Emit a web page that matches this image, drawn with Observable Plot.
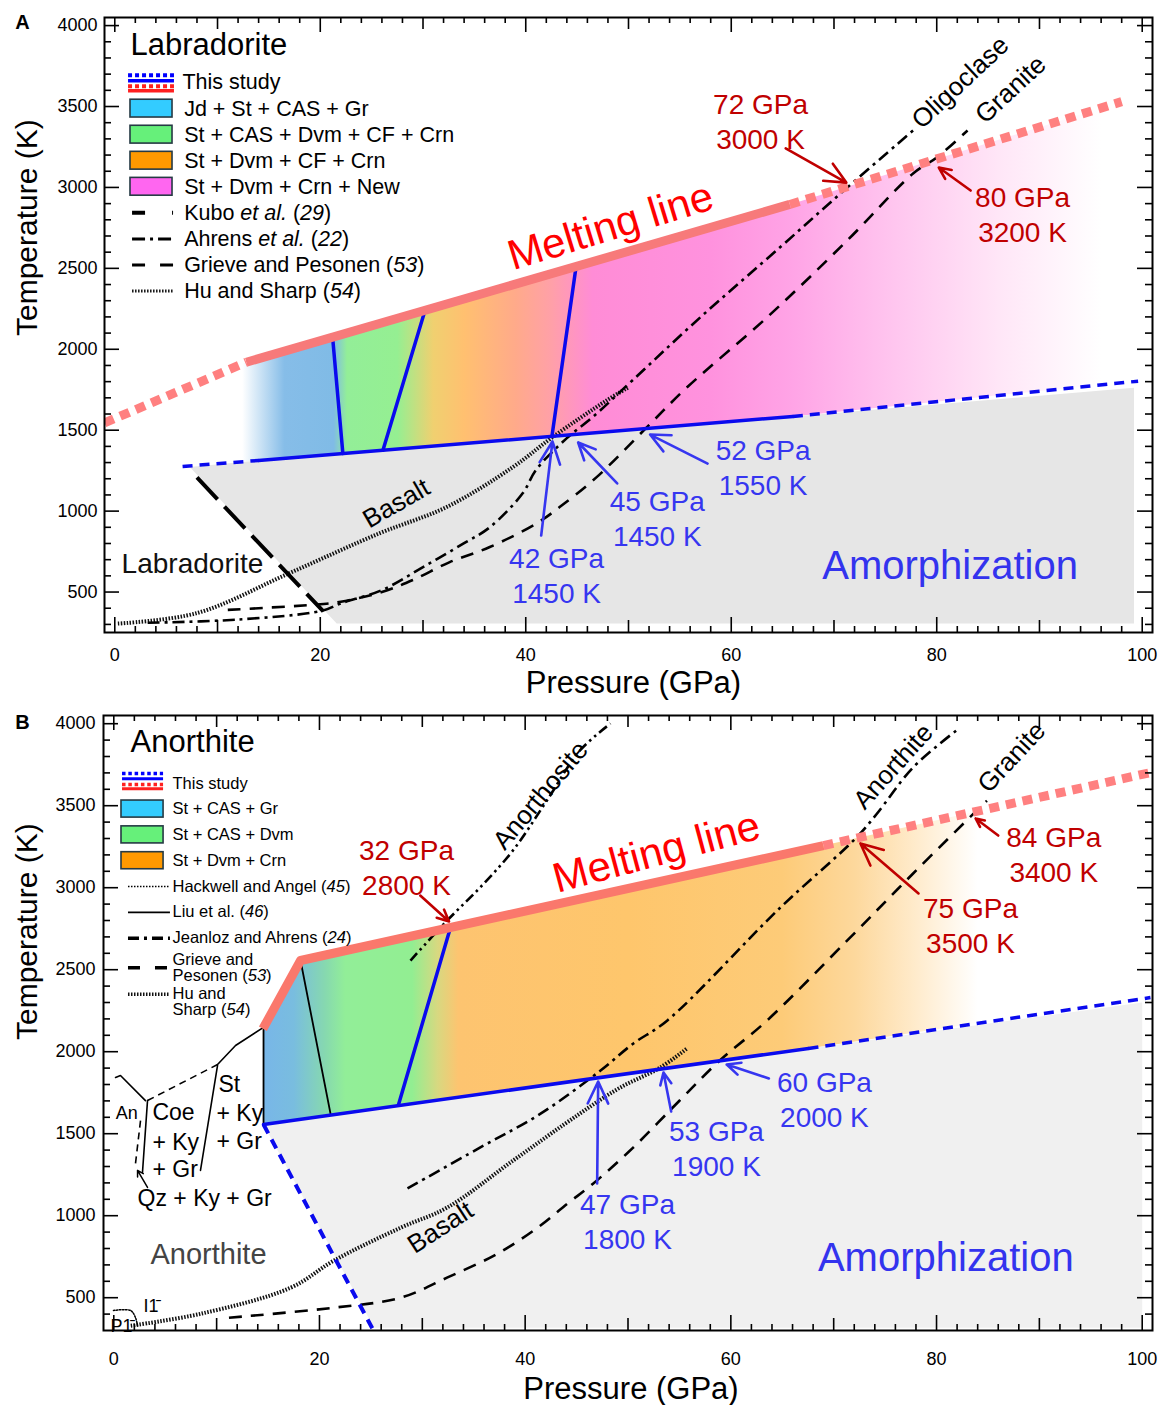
<!DOCTYPE html>
<html><head><meta charset="utf-8">
<script src="https://cdn.jsdelivr.net/npm/d3@7"></script>
<script src="https://cdn.jsdelivr.net/npm/@observablehq/plot@0.6"></script>
<style>
body{margin:0;background:#fff;width:1161px;}
svg{display:block;}
</style></head><body><div id="chart"></div>
<script>
// ================= shared axis values =================
const xTickLabels = [0, 20, 40, 60, 80, 100];
const yTickLabels = [500, 1000, 1500, 2000, 2500, 3000, 3500, 4000];

// ================= Panel A : Labradorite =================
const titleA = "Labradorite";
const meltSolidA = [[12.8, 1920], [65.7, 2895]];
const meltDotLowA = [[-1.0, 1545], [12.8, 1920]];
const meltDotHighA = [[65.7, 2895], [98.0, 3530]];
const amorphSolidA = [[14.0, 1313], [66.0, 1585]];
const amorphDashLowA = [[6.6, 1276], [14.0, 1313]];
const amorphDashHighA = [[66.0, 1585], [99.6, 1803]];
const phaseLinesA = [
  [[21.2, 2075], [22.2, 1356]],
  [[30.2, 2241], [26.1, 1376]],
  [[44.9, 2512], [42.55, 1462]]
];
const grayA = [[7.3, 1272], [14.0, 1313], [66.0, 1585], [99.2, 1762], [99.2, 306], [21.6, 306]];
const fillA = [[12.4, 1912], [65.7, 2895], [98.0, 3530], [99.2, 1801], [66.0, 1585], [14.0, 1313], [12.4, 1305]];
const fillStopsA = [
  [12.4, "#ffffff"], [16.5, "#86bde8"], [21.3, "#80bbe6"], [22.6, "#93ee98"], [27.5, "#95ef92"],
  [31.0, "#f0d070"], [34.0, "#ffc070"], [39.0, "#ffaa8a"], [42.5, "#ffa0a8"], [46.5, "#ff8cd6"],
  [58.0, "#ff92de"], [66.0, "#ffa4e6"], [76.0, "#ffc6ef"], [86.0, "#ffe6f7"], [96.0, "#ffffff"]
];
const kuboA = [[8.0, 1208], [20.3, 380]];
const ahrensA = [[3.2, 310], [12, 330], [20.2, 385], [22, 430], [26, 512], [30, 654], [34, 802], [36.5, 900],
  [39.7, 1110], [41, 1255], [44, 1451], [46.5, 1580], [50.4, 1809], [57, 2198], [64.75, 2630], [71.3, 3000], [77.7, 3352]];
const grieveA = [[11, 390], [19, 420], [22, 440], [26, 500], [29, 574], [32.6, 685], [36.5, 778], [41.1, 926],
  [43.3, 1025], [46.9, 1210], [51.8, 1519], [55.7, 1765], [63.5, 2198], [71.3, 2673], [77.7, 3086], [80, 3185], [83, 3352]];
const huSharpA = [[0.3, 305], [8, 370], [17, 617], [25.8, 864], [32.3, 1025], [38.75, 1272], [42.6, 1457], [47.9, 1685], [50, 1765]];

const swatchLabelsA = ["Jd + St + CAS + Gr", "St + CAS + Dvm + CF + Crn", "St + Dvm + CF + Crn", "St + Dvm + Crn + New"];
const swatchColorsA = ["#33ccff", "#66f07a", "#ff9900", "#ff66f0"];
const lineLabelsA = ["Kubo _et al._ (_29_)", "Ahrens _et al._ (_22_)", "Grieve and Pesonen (_53_)", "Hu and Sharp (_54_)"];

const redLabelsA = [{t: "72 GPa\n3000 K", x: 62.85, y: 3414}, {t: "80 GPa\n3200 K", x: 88.35, y: 2839}];
const redArrowsA = [[65.3, 3241, 71.2, 3030], [83.3, 2981, 80.2, 3123]];
const blueLabelsA = [{t: "42 GPa\n1450 K", x: 43.0, y: 608}, {t: "45 GPa\n1450 K", x: 52.8, y: 961}, {t: "52 GPa\n1550 K", x: 63.1, y: 1276}];
const blueArrowsA = [[41.5, 849, 42.6, 1430], [48.9, 1171, 45.1, 1424], [57.7, 1294, 52.1, 1473]];
const rockLabelsA = [{t: "Oligoclase", x: 82.3, y: 3648, r: -43}, {t: "Granite", x: 87.2, y: 3605, r: -43}, {t: "Basalt", x: 27.4, y: 1047, r: -30}];

// ================= Panel B : Anorthite =================
const titleB = "Anorthite";
const meltSolidB = [[14.5, 2140], [18.16, 2556], [69.0, 3257]];
const meltDotB = [[69.0, 3257], [100.8, 3702]];
const amorphSolidB = [[14.56, 1556], [67.55, 2020]];
const amorphDashB = [[67.55, 2020], [100.8, 2330]];
const amorphDashDownB = [[14.56, 1556], [25.25, 300]];
const phaseBlueB = [[32.74, 2757], [27.69, 1678]];
const phaseBlackB = [[[18.16, 2556], [21.07, 1623]], [[14.56, 2148], [14.56, 1556]]];
const grayB = [[14.56, 1556], [67.55, 2020], [100.0, 2300], [100.0, 317], [25.3, 317]];
const fillB = [[14.56, 2148], [18.16, 2556], [69.0, 3257], [86.0, 3495], [86.0, 2193], [67.55, 2020], [14.56, 1556]];
const fillStopsB = [
  [14.56, "#78b6e8"], [17.5, "#79bddf"], [20.5, "#86d8b0"], [22.5, "#92ee98"], [29.0, "#92ee92"],
  [31.5, "#d8d880"], [33.5, "#fdc470"], [50.0, "#fec66c"], [65.0, "#fdcb78"], [72.0, "#fdd89c"],
  [78.0, "#ffebcc"], [84.0, "#ffffff"]
];
const jeanlozHighB = [[28.85, 2556], [32.4, 2799], [35.6, 3000], [38.8, 3226], [42.1, 3530], [45.3, 3835], [48.3, 4001]];
const jeanlozLowB = [[28.56, 1166], [35.6, 1415], [41.5, 1622], [47.3, 1884], [50.5, 2049], [53.8, 2189], [64.8, 2878],
  [72.2, 3305], [74.2, 3451], [77.7, 3732], [81.9, 3957]];
const grieveB = [[11.2, 378], [21.4, 439], [27.9, 500], [32.4, 622], [37.3, 768], [41.2, 927], [44.1, 1073], [46.6, 1195],
  [50.5, 1415], [55.0, 1701], [58.9, 1945], [63.5, 2189], [71.3, 2677], [77.7, 3085], [83.9, 3470], [84.9, 3530]];
const huSharpB = [[1.65, 329], [8.45, 402], [17.2, 561], [21.4, 726], [27.9, 927], [32.4, 1049], [38.8, 1335],
  [45.3, 1622], [49.2, 1780], [53.1, 1902], [55.7, 2018]];
const liuSolidB = [
  [[0.17, 1843], [0.65, 1855], [3.08, 1702]],
  [[3.28, 1702], [2.79, 1263]],
  [[10.09, 1922], [11.84, 2038], [14.56, 2148]],
  [[10.09, 1916], [8.43, 1276]]
];
const liuDashB = [[[3.28, 1702], [10.09, 1922]], [[2.6, 1580], [2.11, 1318]]];
const liuRedB = [[19.6, 2561], [23.8, 2616]];
const liuArrowB = [[3.28, 1172, 2.31, 1276]];
const hackwellB = [[-0.03, 422], [1.63, 422], [2.11, 379], [2.3, 330]];

const swatchLabelsB = ["St + CAS + Gr", "St + CAS + Dvm", "St + Dvm + Crn"];
const swatchColorsB = ["#33ccff", "#66f07a", "#ff9900"];
const lineLabelsB = ["Hackwell and Angel (_45_)", "Liu et al. (_46_)", "Jeanloz and Ahrens (_24_)", "Grieve and\nPesonen (_53_)", "Hu and\nSharp (_54_)"];

const redLabelsB = [{t: "32 GPa\n2800 K", x: 28.46, y: 3129}, {t: "84 GPa\n3400 K", x: 91.4, y: 3209}, {t: "75 GPa\n3500 K", x: 83.3, y: 2776}];
const redArrowsB = [[29.8, 2952, 32.6, 2794], [86.0, 3318, 83.8, 3422], [78.25, 2965, 72.6, 3270]];
const blueLabelsB = [{t: "60 GPa\n2000 K", x: 69.1, y: 1715}, {t: "53 GPa\n1900 K", x: 58.6, y: 1416}, {t: "47 GPa\n1800 K", x: 49.95, y: 971}];
const blueArrowsB = [[63.7, 1837, 59.6, 1922], [54.2, 1635, 53.45, 1873], [47.0, 1196, 47.1, 1818]];
const rockLabelsB = [{t: "Anorthosite", x: 41.5, y: 3562, r: -50}, {t: "Anorthite", x: 75.8, y: 3739, r: -48},
  {t: "Granite", x: 87.3, y: 3794, r: -47}, {t: "Basalt", x: 31.77, y: 928, r: -33}];
const phaseTextB = [
  {t: "An", x: 0.2, y: 1623, s: 18}, {t: "Coe", x: 3.76, y: 1629, s: 23},
  {t: "+ Ky", x: 3.76, y: 1446, s: 23}, {t: "+ Gr", x: 3.76, y: 1282, s: 23},
  {t: "St", x: 10.18, y: 1800, s: 23}, {t: "+ Ky", x: 9.99, y: 1623, s: 23},
  {t: "+ Gr", x: 9.99, y: 1452, s: 23}, {t: "Qz + Ky + Gr", x: 2.31, y: 1105, s: 23},
  {t: "I1\u0304", x: 2.89, y: 446, s: 18}, {t: "P1\u0304", x: -0.32, y: 324, s: 18}
];

// ================= helpers =================
const FONT = "'Liberation Sans', Arial, Helvetica, sans-serif";
const RED_DARK = "#c00000", BLUE_TXT = "#3636f0", LINE_BLUE = "#0a0aee";
const px = d => d[0], py = d => d[1];

function ln(arr, o) { return Plot.line(arr, {x: px, y: py, clip: true, ...o}); }
function lns(arrs, o) {
  const flat = arrs.flatMap((a, i) => a.map(p => ({x: p[0], y: p[1], z: i})));
  return Plot.line(flat, {x: "x", y: "y", z: "z", clip: true, ...o});
}
function poly(arr, fill) { return Plot.line(arr, {x: px, y: py, curve: "linear-closed", fill, stroke: "none", clip: true}); }
function arrows(arr, color) {
  return Plot.arrow(arr, {x1: d => d[0], y1: d => d[1], x2: d => d[2], y2: d => d[3], stroke: color, strokeWidth: 2.6, headLength: 14, headAngle: 50});
}
function tickMarks(fw, fh, yTicks) {
  const m = [];
  const xs = d3.range(0, 101, 2);
  const xl = v => v % 20 === 0 ? 15 : v % 10 === 0 ? 12 : 6;
  for (const L of [15, 12, 6]) {
    const d = xs.filter(v => xl(v) === L);
    m.push(Plot.ruleX(d, {x: v => v, insetTop: fh - L, stroke: "black", strokeWidth: 1.6}));
    m.push(Plot.ruleX(d, {x: v => v, insetBottom: fh - L, stroke: "black", strokeWidth: 1.6}));
  }
  const yl = v => v % 500 === 0 ? 15 : 7;
  for (const L of [15, 7]) {
    const d = yTicks.filter(v => yl(v) === L);
    m.push(Plot.ruleY(d, {y: v => v, insetRight: fw - L, stroke: "black", strokeWidth: 1.6}));
    m.push(Plot.ruleY(d, {y: v => v, insetLeft: fw - L, stroke: "black", strokeWidth: 1.6}));
  }
  return m;
}
function addGradient(svg, id, polygon, stops) {
  const xmin = d3.min(polygon, px), xmax = d3.max(polygon, px);
  const defs = d3.select(svg).insert("svg:defs", ":first-child");
  const g = defs.append("svg:linearGradient").attr("id", id).attr("x1", 0).attr("x2", 1).attr("y1", 0).attr("y2", 0);
  for (const [x, c] of stops) g.append("svg:stop").attr("offset", Math.max(0, Math.min(1, (x - xmin) / (xmax - xmin)))).attr("stop-color", c);
}
function italicize(svg) {
  svg.querySelectorAll("text, tspan").forEach(el => {
    if (el.childElementCount) return;
    const t = el.textContent;
    if (!t.includes("_")) return;
    el.textContent = "";
    t.split("_").forEach((part, i) => {
      if (!part) return;
      const ts = document.createElementNS("http://www.w3.org/2000/svg", "tspan");
      if (i % 2) ts.setAttribute("font-style", "italic");
      ts.textContent = part;
      el.appendChild(ts);
    });
  });
}
const HATCH = {stroke: "#111", strokeWidth: 4, strokeDasharray: "1.5,1.5", strokeLinecap: "butt"};

// ================= Panel A =================
function panelA() {
  const W = 1161, H = 700, mL = 104, mR = 9, mT = 17, mB = 68;
  const fw = W - mL - mR, fh = H - mT - mB;
  const rowY = i => 3648 - i * 161;
  const swRows = swatchLabelsA.map((t, i) => ({t, c: swatchColorsA[i], y: rowY(i + 1)}));
  const lnRows = lineLabelsA.map((t, i) => ({t, y: rowY(i + 5)}));
  const marks = [
    poly(fillA, "url(#gradA)"),
    poly(grayA, "#e6e6e6"),
    ln(huSharpA, {...HATCH, curve: "catmull-rom"}),
    ln(ahrensA, {stroke: "black", strokeWidth: 2.6, strokeDasharray: "12,5,3,5", strokeLinecap: "butt", curve: "catmull-rom"}),
    ln(grieveA, {stroke: "black", strokeWidth: 2.6, strokeDasharray: "13,9", strokeLinecap: "butt", curve: "catmull-rom"}),
    ln(kuboA, {stroke: "black", strokeWidth: 4, strokeDasharray: "30,10", strokeLinecap: "butt"}),
    lns(phaseLinesA, {stroke: LINE_BLUE, strokeWidth: 3.5}),
    ln(amorphSolidA, {stroke: LINE_BLUE, strokeWidth: 3.5}),
    ln(amorphDashLowA, {stroke: LINE_BLUE, strokeWidth: 3.5, strokeDasharray: "10,7", strokeLinecap: "butt"}),
    ln(amorphDashHighA, {stroke: LINE_BLUE, strokeWidth: 3.5, strokeDasharray: "10,7", strokeLinecap: "butt"}),
    ln(meltSolidA, {stroke: "#f77a7a", strokeWidth: 9, strokeLinecap: "butt"}),
    ln(meltDotLowA, {stroke: "#ff8080", strokeWidth: 9, strokeDasharray: "10,7", strokeLinecap: "butt"}),
    ln(meltDotHighA, {stroke: "#ff8080", strokeWidth: 9, strokeDasharray: "10,7", strokeLinecap: "butt"}),
    // annotations
    Plot.text(["Melting line"], {x: 48.25, y: 2759, text: d => d, rotate: -17, fontSize: 42, fill: "#ff0000"}),
    Plot.text(redLabelsA, {x: "x", y: "y", text: "t", fontSize: 28, fill: RED_DARK, lineHeight: 1.25}),
    arrows(redArrowsA, RED_DARK),
    Plot.text(blueLabelsA, {x: "x", y: "y", text: "t", fontSize: 28, fill: BLUE_TXT, lineHeight: 1.25}),
    arrows(blueArrowsA, BLUE_TXT),
    Plot.text(rockLabelsA, {x: "x", y: "y", text: "t", rotate: d => d.r, fontSize: 26, fill: "black"}),
    Plot.text(["Labradorite"], {x: 7.56, y: 676, text: d => d, fontSize: 28, fill: "#111"}),
    Plot.text(["Amorphization"], {x: 81.3, y: 658, text: d => d, fontSize: 40, fill: "#3333ee"}),
    // legend
    Plot.text([titleA], {x: 1.53, y: 3877, text: d => d, fontSize: 31, textAnchor: "start"}),
    Plot.ruleY([rowY(0)], {y: d => d, x1: 1.34, x2: 5.81, dy: -7.3, stroke: "#0000ff", strokeWidth: 4, strokeDasharray: "4,3"}),
    Plot.ruleY([rowY(0)], {y: d => d, x1: 1.34, x2: 5.81, dy: -1.7, stroke: "#0000ff", strokeWidth: 3.5}),
    Plot.ruleY([rowY(0)], {y: d => d, x1: 1.34, x2: 5.81, dy: 3.7, stroke: "#ff2020", strokeWidth: 4, strokeDasharray: "4,3"}),
    Plot.ruleY([rowY(0)], {y: d => d, x1: 1.34, x2: 5.81, dy: 8.2, stroke: "#ff2020", strokeWidth: 3.5}),
    Plot.text(["This study"], {x: 6.59, y: rowY(0), text: d => d, fontSize: 21.5, textAnchor: "start"}),
    ...swRows.map(r => Plot.rect([r], {x1: 1.53, x2: 5.62, y1: d => d.y - 55, y2: d => d.y + 55, fill: r.c, stroke: "#263a44", strokeWidth: 1.6})),
    Plot.text(swRows, {x: 6.75, y: "y", text: "t", fontSize: 21.5, textAnchor: "start"}),
    Plot.ruleY([lnRows[0]], {y: "y", x1: 1.73, x2: 5.72, stroke: "black", strokeWidth: 4, strokeDasharray: "13,27"}),
    Plot.ruleY([lnRows[1]], {y: "y", x1: 1.73, x2: 5.72, stroke: "black", strokeWidth: 3, strokeDasharray: "13,5,3,5"}),
    Plot.ruleY([lnRows[2]], {y: "y", x1: 1.73, x2: 5.72, stroke: "black", strokeWidth: 3, strokeDasharray: "13,15"}),
    Plot.ruleY([lnRows[3]], {y: "y", x1: 1.73, x2: 5.72, stroke: "#111", strokeWidth: 3, strokeDasharray: "1.5,1.5"}),
    Plot.text(lnRows, {x: 6.75, y: "y", text: "t", fontSize: 21.5, textAnchor: "start"}),
    // axes
    ...tickMarks(fw, fh, d3.range(300, 4001, 100)),
    Plot.frame({stroke: "black", strokeWidth: 2}),
    Plot.text(xTickLabels, {x: d => d, text: d => String(d), frameAnchor: "bottom", lineAnchor: "middle", dy: 23, fontSize: 18}),
    Plot.text(yTickLabels, {y: d => d, text: d => String(d), frameAnchor: "left", textAnchor: "end", dx: -7, fontSize: 18}),
    Plot.text(["Pressure (GPa)"], {text: d => d, frameAnchor: "bottom", lineAnchor: "middle", dy: 51, dx: 5, fontSize: 31}),
    Plot.text(["Temperature (K)"], {text: d => d, frameAnchor: "left", rotate: -90, dx: -77, dy: 11, fontSize: 30}),
    Plot.text(["A"], {text: d => d, frameAnchor: "top-left", textAnchor: "middle", lineAnchor: "middle", dx: -82, dy: 5, fontSize: 20, fontWeight: "bold"})
  ];
  const svg = Plot.plot({
    width: W, height: H, marginLeft: mL, marginRight: mR, marginTop: mT, marginBottom: mB,
    x: {domain: [-1, 101], axis: null}, y: {domain: [250, 4050], axis: null},
    style: {fontFamily: FONT, fontSize: "18px", background: "white", overflow: "visible", color: "black"},
    marks
  });
  addGradient(svg, "gradA", fillA, fillStopsA);
  italicize(svg);
  return svg;
}

// ================= Panel B =================
function panelB() {
  const W = 1161, H = 705, mL = 103, mR = 9, mT = 15, mB = 75;
  const fw = W - mL - mR, fh = H - mT - mB;
  const slot = i => i < 7 ? i : 7.14 + (i - 7) * 1.34;
  const rowY = i => 3637 - slot(i) * 157.5;
  const swRows = swatchLabelsB.map((t, i) => ({t, c: swatchColorsB[i], y: rowY(i + 1)}));
  const lnRows = lineLabelsB.map((t, i) => ({t, y: rowY(i + 4)}));
  const marks = [
    poly(fillB, "url(#gradB)"),
    poly(grayB, "#f0f0f0"),
    ln(huSharpB, {...HATCH, curve: "catmull-rom"}),
    ln(hackwellB, {stroke: "black", strokeWidth: 1.5, strokeDasharray: "1.5,1.5", curve: "catmull-rom"}),
    ln(jeanlozHighB, {stroke: "black", strokeWidth: 2.6, strokeDasharray: "10,4,2.5,4,2.5,4", strokeLinecap: "butt", curve: "catmull-rom"}),
    ln(jeanlozLowB, {stroke: "black", strokeWidth: 2.6, strokeDasharray: "12,5,3,5", strokeLinecap: "butt", curve: "catmull-rom"}),
    ln(grieveB, {stroke: "black", strokeWidth: 2.6, strokeDasharray: "13,9", strokeLinecap: "butt", curve: "catmull-rom"}),
    lns(liuSolidB, {stroke: "black", strokeWidth: 1.6, strokeLinejoin: "miter"}),
    lns(liuDashB, {stroke: "black", strokeWidth: 1.6, strokeDasharray: "7,5", strokeLinecap: "butt"}),
    ln(liuRedB, {stroke: "#9a1010", strokeWidth: 1.8}),
    Plot.arrow(liuArrowB, {x1: d => d[0], y1: d => d[1], x2: d => d[2], y2: d => d[3], stroke: "black", strokeWidth: 1.5, headLength: 8}),
    lns(phaseBlackB, {stroke: "black", strokeWidth: 1.8}),
    ln(phaseBlueB, {stroke: LINE_BLUE, strokeWidth: 3.5}),
    ln(amorphSolidB, {stroke: LINE_BLUE, strokeWidth: 3.5}),
    ln(amorphDashB, {stroke: LINE_BLUE, strokeWidth: 3.5, strokeDasharray: "10,7", strokeLinecap: "butt"}),
    ln(amorphDashDownB, {stroke: LINE_BLUE, strokeWidth: 4, strokeDasharray: "10,7", strokeLinecap: "butt"}),
    ln(meltSolidB, {stroke: "#fa786c", strokeWidth: 9, strokeLinecap: "butt", strokeLinejoin: "round"}),
    ln(meltDotB, {stroke: "#ff8080", strokeWidth: 9, strokeDasharray: "10,7", strokeLinecap: "butt"}),
    // annotations
    Plot.text(["Melting line"], {x: 52.77, y: 3215, text: d => d, rotate: -15, fontSize: 42, fill: "#ff0000"}),
    Plot.text(redLabelsB, {x: "x", y: "y", text: "t", fontSize: 28, fill: RED_DARK, lineHeight: 1.25}),
    arrows(redArrowsB, RED_DARK),
    Plot.text(blueLabelsB, {x: "x", y: "y", text: "t", fontSize: 28, fill: BLUE_TXT, lineHeight: 1.25}),
    arrows(blueArrowsB, BLUE_TXT),
    Plot.text(rockLabelsB, {x: "x", y: "y", text: "t", rotate: d => d.r, fontSize: 26, fill: "black"}),
    Plot.text(phaseTextB, {x: "x", y: "y", text: "t", fontSize: d => d.s, textAnchor: "start", fill: "black"}),
    Plot.text(["Anorthite"], {x: 9.21, y: 763, text: d => d, fontSize: 29, fill: "#444"}),
    Plot.text(["Amorphization"], {x: 80.9, y: 739, text: d => d, fontSize: 40, fill: "#3333ee"}),
    // legend
    Plot.text([titleB], {x: 1.63, y: 3885, text: d => d, fontSize: 31, textAnchor: "start"}),
    Plot.ruleY([rowY(0)], {y: d => d, x1: 0.85, x2: 4.84, dy: -9.7, stroke: "#0000ff", strokeWidth: 3.5, strokeDasharray: "3.5,2.8"}),
    Plot.ruleY([rowY(0)], {y: d => d, x1: 0.85, x2: 4.84, dy: -4.6, stroke: "#0000ff", strokeWidth: 3}),
    Plot.ruleY([rowY(0)], {y: d => d, x1: 0.85, x2: 4.84, dy: 1.2, stroke: "#ff2020", strokeWidth: 3.5, strokeDasharray: "3.5,2.8"}),
    Plot.ruleY([rowY(0)], {y: d => d, x1: 0.85, x2: 4.84, dy: 5.6, stroke: "#ff2020", strokeWidth: 3}),
    Plot.text(["This study"], {x: 5.71, y: rowY(0), text: d => d, fontSize: 16.5, textAnchor: "start"}),
    ...swRows.map(r => Plot.rect([r], {x1: 0.75, x2: 4.84, y1: d => d.y - 52, y2: d => d.y + 52, fill: r.c, stroke: "#263a44", strokeWidth: 1.6})),
    Plot.text(swRows, {x: 5.71, y: "y", text: "t", fontSize: 16.5, textAnchor: "start"}),
    Plot.ruleY([lnRows[0]], {y: "y", x1: 1.43, x2: 5.51, stroke: "black", strokeWidth: 1.5, strokeDasharray: "1.5,1.5"}),
    Plot.ruleY([lnRows[1]], {y: "y", x1: 1.43, x2: 5.51, stroke: "black", strokeWidth: 1.6}),
    Plot.ruleY([lnRows[2]], {y: "y", x1: 1.43, x2: 5.51, stroke: "black", strokeWidth: 3.5, strokeDasharray: "11,5,3,5"}),
    Plot.ruleY([lnRows[3]], {y: "y", x1: 1.43, x2: 5.51, stroke: "black", strokeWidth: 3.5, strokeDasharray: "12,15"}),
    Plot.ruleY([lnRows[4]], {y: "y", x1: 1.43, x2: 5.51, dy: -8, stroke: "#111", strokeWidth: 3.5, strokeDasharray: "1.5,1.5"}),
    Plot.text(lnRows, {x: 5.71, y: "y", text: "t", fontSize: 16.5, textAnchor: "start", lineHeight: 0.95}),
    // axes
    ...tickMarks(fw, fh, d3.range(400, 4001, 100)),
    Plot.frame({stroke: "black", strokeWidth: 2}),
    Plot.text(xTickLabels, {x: d => d, text: d => String(d), frameAnchor: "bottom", lineAnchor: "middle", dy: 29, fontSize: 18}),
    Plot.text(yTickLabels, {y: d => d, text: d => String(d), frameAnchor: "left", textAnchor: "end", dx: -8, fontSize: 18}),
    Plot.text(["Pressure (GPa)"], {text: d => d, frameAnchor: "bottom", lineAnchor: "middle", dy: 59, dx: 3, fontSize: 31}),
    Plot.text(["Temperature (K)"], {text: d => d, frameAnchor: "left", rotate: -90, dx: -76, dy: 17, fontSize: 30}),
    Plot.text(["B"], {text: d => d, frameAnchor: "top-left", textAnchor: "middle", lineAnchor: "middle", dx: -81, dy: 7, fontSize: 20, fontWeight: "bold"})
  ];
  const svg = Plot.plot({
    width: W, height: H, marginLeft: mL, marginRight: mR, marginTop: mT, marginBottom: mB,
    x: {domain: [-1, 101], axis: null}, y: {domain: [300, 4050], axis: null},
    style: {fontFamily: FONT, fontSize: "18px", background: "white", overflow: "visible", color: "black"},
    marks
  });
  addGradient(svg, "gradB", fillB, fillStopsB);
  italicize(svg);
  return svg;
}

const root = document.getElementById("chart");
root.appendChild(panelA());
root.appendChild(panelB());
</script>
</body></html>
